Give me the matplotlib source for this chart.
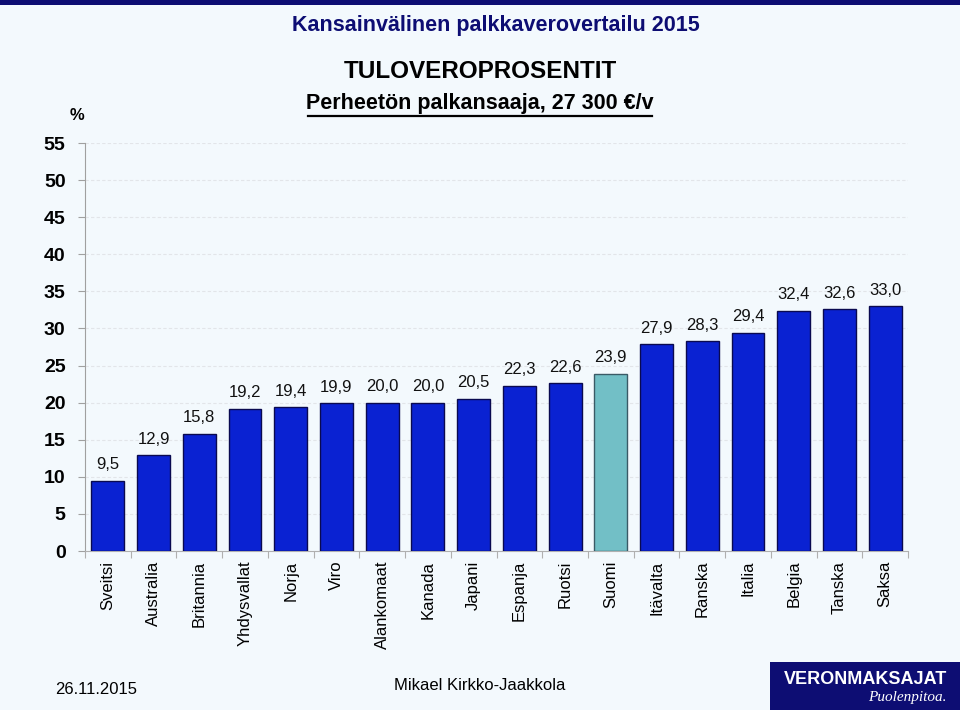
import matplotlib.pyplot as plt
import numpy as np
from matplotlib.patches import Rectangle

# data
countries = ['Sveitsi', 'Australia', 'Britannia', 'Yhdysvallat', 'Norja', 'Viro',
             'Alankomaat', 'Kanada', 'Japani', 'Espanja', 'Ruotsi', 'Suomi',
             'Itävalta', 'Ranska', 'Italia', 'Belgia', 'Tanska', 'Saksa']
tax_pct = [9.5, 12.9, 15.8, 19.2, 19.4, 19.9, 20.0, 20.0, 20.5, 22.3, 22.6, 23.9,
           27.9, 28.3, 29.4, 32.4, 32.6, 33.0]
highlight = 'Suomi'
y_ticks = [0, 5, 10, 15, 20, 25, 30, 35, 40, 45, 50, 55]

BG = '#f3f9fd'
NAVY = '#0d0d73'
BAR = '#0a22d2'
BAR_HI = '#72bfc6'

plt.rcParams['font.family'] = ['Liberation Sans', 'DejaVu Sans']

fig = plt.figure(figsize=(9.6, 7.1), dpi=100, facecolor=BG)
W, H = 960, 710

def fx(px):
    return px / W

def fy(py):
    return 1 - py / H

# navy band at the top
fig.patches.append(Rectangle((0, fy(5)), 1, 5 / H, transform=fig.transFigure,
                             facecolor=NAVY, edgecolor='none'))

ax = fig.add_axes([fx(85), fy(551), fx(908 - 85), (551 - 143) / H])
ax.set_facecolor(BG)

x = np.arange(len(countries))
colors = [BAR_HI if c == highlight else BAR for c in countries]
edges = ['#3a5a66' if c == highlight else '#0a0a50' for c in countries]
ax.bar(x, tax_pct, width=0.72, color=colors, edgecolor=edges, linewidth=1.0, zorder=3)

for xi, v in zip(x, tax_pct):
    ax.annotate(f'{v:.1f}'.replace('.', ','), (xi, v), xytext=(0, 11.5),
                textcoords='offset points', ha='center', va='center',
                fontsize=12, color='#111111', zorder=4)

ax.set_xlim(-0.5, len(countries) - 0.5)
ax.set_ylim(0, 55)
ax.set_yticks(y_ticks)
ax.set_yticklabels([str(t) for t in y_ticks], fontsize=14, fontweight='bold')
ax.yaxis.grid(True, linestyle=(0, (3, 2)), color='#e2e5e9', linewidth=0.8, zorder=0)
ax.tick_params(axis='y', length=5, width=0.8, color='#a0a0a0', pad=9)

ax.set_xticks(x)
ax.set_xticklabels(countries, rotation=90, fontsize=12, va='top', ha='center')
ax.set_xticks(np.arange(-0.5, len(countries), 1), minor=True)
ax.tick_params(axis='x', which='major', length=0, pad=7)
ax.tick_params(axis='x', which='minor', length=5, width=0.8, color='#b0b0b0')

for s in ['top', 'right']:
    ax.spines[s].set_visible(False)
ax.spines['left'].set_color('#a0a0a0')
ax.spines['bottom'].set_color('#b0b0b0')
ax.spines['left'].set_linewidth(0.8)
ax.spines['bottom'].set_linewidth(0.8)

# titles
fig.text(fx(496), fy(25), 'Kansainvälinen palkkaverovertailu 2015', ha='center', va='center',
         fontsize=15.5, fontweight='bold', color=NAVY)
fig.text(fx(480), fy(72), 'TULOVEROPROSENTIT', ha='center', va='center',
         fontsize=17.5, fontweight='bold', color='black')
fig.text(fx(480), fy(104), 'Perheetön palkansaaja, 27 300 €/v', ha='center', va='center',
         fontsize=15.5, fontweight='bold', color='black')
fig.lines.append(plt.Line2D([fx(308), fx(652)], [fy(116), fy(116)],
                            transform=fig.transFigure, color='black', linewidth=1.6))
fig.text(fx(77), fy(115), '%', ha='center', va='center', fontsize=12, fontweight='bold')

# footer
fig.text(fx(55), fy(689), '26.11.2015', ha='left', va='center', fontsize=12)
fig.text(fx(480), fy(685), 'Mikael Kirkko-Jaakkola', ha='center', va='center', fontsize=12)
fig.patches.append(Rectangle((fx(770), 0), 1 - fx(770), 48 / H, transform=fig.transFigure,
                             facecolor=NAVY, edgecolor='none'))
fig.text(fx(947), fy(680), 'VERONMAKSAJAT', ha='right', va='center', fontsize=13,
         fontweight='bold', color='white')
fig.text(fx(947), fy(697), 'Puolenpitoa.', ha='right', va='center', fontsize=11,
         style='italic', color='white', family=['Liberation Serif', 'DejaVu Serif'])

fig.savefig('out.png', dpi=100, facecolor=BG)
